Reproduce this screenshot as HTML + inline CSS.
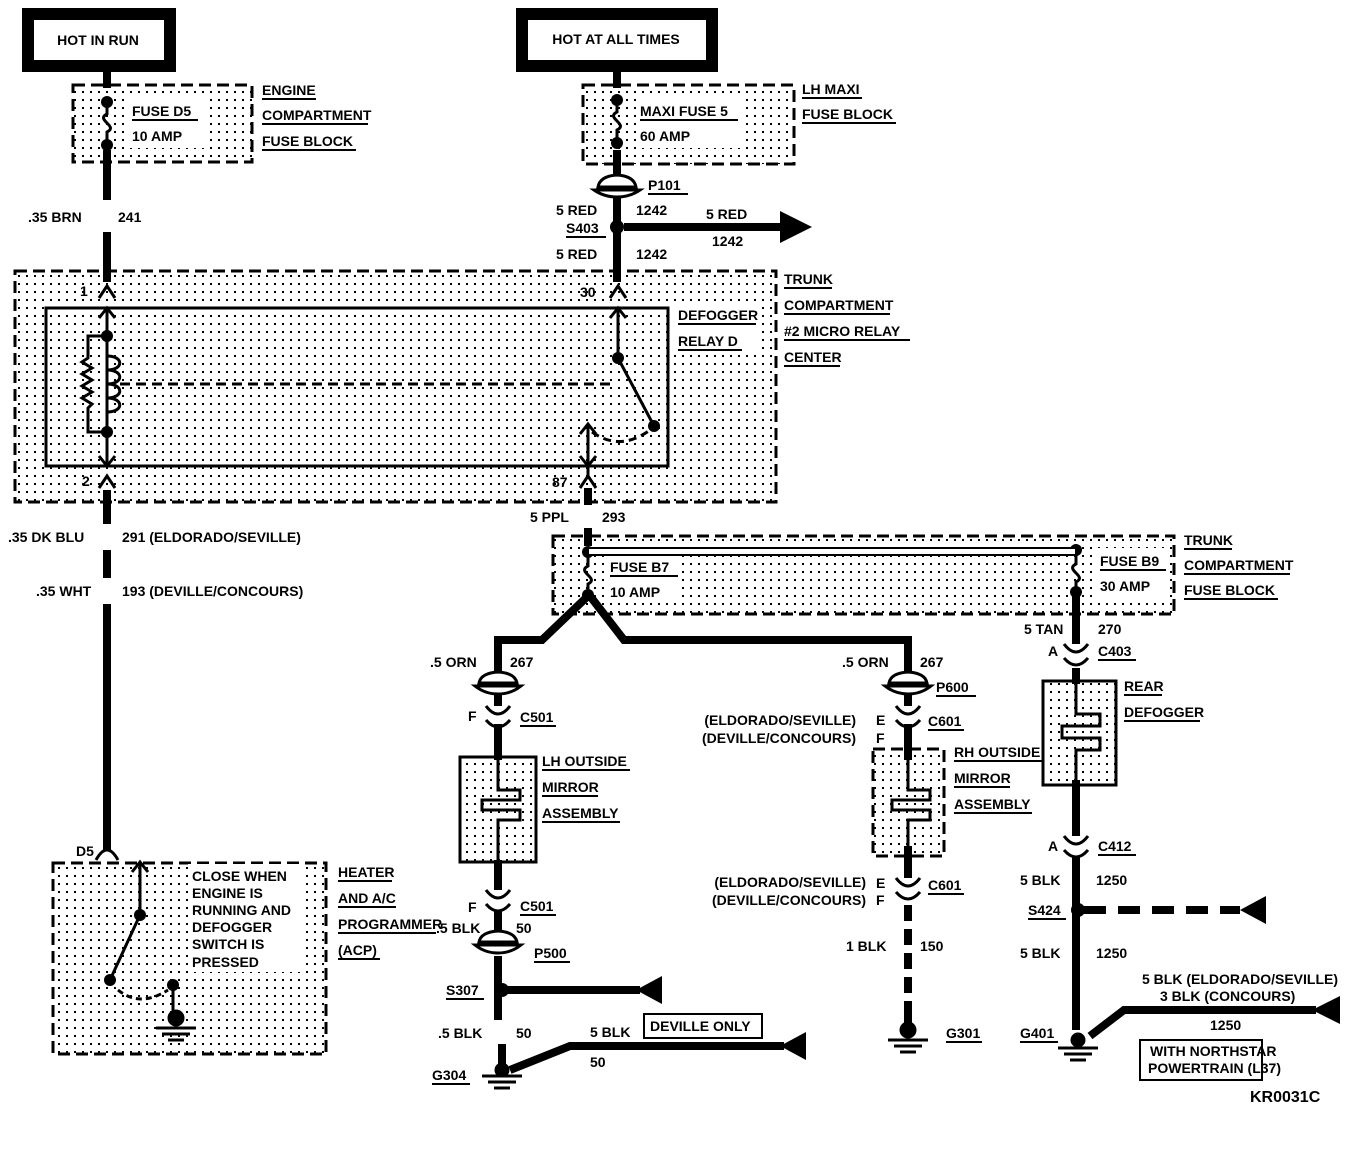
<!DOCTYPE html>
<html><head><meta charset="utf-8"><style>
html,body{margin:0;padding:0;background:#fff;}
svg{display:block;}
text{font-family:"Liberation Sans",sans-serif;font-weight:bold;font-size:14px;fill:#000;}
</style></head><body>
<svg width="1360" height="1156" viewBox="0 0 1360 1156" xmlns="http://www.w3.org/2000/svg">
<defs>
<pattern id="dp" width="8" height="8" patternUnits="userSpaceOnUse"><rect x="2" y="3" width="2" height="2" fill="#000"/></pattern>
</defs>
<rect width="1360" height="1156" fill="#fff"/>

<rect x="28" y="14" width="142" height="52" fill="#fff" stroke="#000" stroke-width="12"/>
<text x="98" y="45" text-anchor="middle">HOT IN RUN</text>
<rect x="522" y="14" width="190" height="52" fill="#fff" stroke="#000" stroke-width="12"/>
<text x="616" y="44" text-anchor="middle">HOT AT ALL TIMES</text>

<g stroke="#000" stroke-width="3" stroke-dasharray="12,6" fill="url(#dp)">
<rect x="73" y="85" width="179" height="77"/>
<rect x="583" y="85" width="211" height="79"/>
<rect x="15" y="271" width="761" height="231"/>
<rect x="553" y="536" width="621" height="78"/>
<rect x="873" y="749" width="71" height="107"/>
<rect x="53" y="863" width="273" height="191"/>
</g>
<rect x="46" y="308" width="622" height="158" fill="none" stroke="#000" stroke-width="3"/>

<!-- white text backgrounds -->
<g fill="#fff">
<rect x="128" y="98" width="76" height="50"/>
<rect x="636" y="97" width="108" height="51"/>
<rect x="674" y="303" width="88" height="52"/>
<rect x="606" y="556" width="76" height="46"/>
<rect x="1096" y="548" width="74" height="50"/>
<rect x="188" y="864" width="112" height="108"/>
</g>

<g>
<text x="132" y="116">FUSE D5</text><line x1="132" y1="120" x2="198" y2="120" stroke="#000" stroke-width="2"/>
<text x="132" y="141">10 AMP</text>
<text x="262" y="95">ENGINE</text><line x1="262" y1="99" x2="316" y2="99" stroke="#000" stroke-width="2"/>
<text x="262" y="120">COMPARTMENT</text><line x1="262" y1="124" x2="368" y2="124" stroke="#000" stroke-width="2"/>
<text x="262" y="146">FUSE BLOCK</text><line x1="262" y1="150" x2="356" y2="150" stroke="#000" stroke-width="2"/>
<text x="640" y="116">MAXI FUSE 5</text><line x1="640" y1="120" x2="738" y2="120" stroke="#000" stroke-width="2"/>
<text x="640" y="141">60 AMP</text>
<text x="802" y="94">LH MAXI</text><line x1="802" y1="98" x2="862" y2="98" stroke="#000" stroke-width="2"/>
<text x="802" y="119">FUSE BLOCK</text><line x1="802" y1="123" x2="896" y2="123" stroke="#000" stroke-width="2"/>
</g>

<g stroke="#000" stroke-width="3" fill="none">
<path d="M107,102 L107,114 C95,120 119,126 107,132 L107,145"/>
<path d="M617,100 L617,112 C605,118 629,124 617,130 L617,143"/>
<path d="M588,552 L588,566 C576,572 600,578 588,584 L588,595"/>
<path d="M1076,550 L1076,564 C1064,570 1088,576 1076,582 L1076,592"/>
</g>
<g fill="#000">
<circle cx="107" cy="102" r="6"/><circle cx="107" cy="145" r="6"/>
<circle cx="617" cy="100" r="6"/><circle cx="617" cy="143" r="6"/>
<circle cx="588" cy="552" r="6"/><circle cx="588" cy="595" r="6"/>
<circle cx="1076" cy="550" r="6"/><circle cx="1076" cy="592" r="6"/>
</g>

<g stroke="#000" stroke-width="8" fill="none">
<line x1="107" y1="66" x2="107" y2="88"/>
<line x1="107" y1="150" x2="107" y2="200"/>
<line x1="107" y1="232" x2="107" y2="282"/>
<line x1="617" y1="66" x2="617" y2="88"/>
<line x1="617" y1="150" x2="617" y2="176"/>
<line x1="617" y1="192" x2="617" y2="282"/>
<line x1="624" y1="227" x2="784" y2="227"/>
</g>
<path d="M780,211 L812,227 L780,243 Z" fill="#000"/>
<text x="28" y="222">.35 BRN</text><text x="118" y="222">241</text>

<g fill="#fff" stroke="#000" stroke-width="3">
<path d="M598,187 Q600,176 617,175 Q634,176 636,187 Z"/>
<path d="M594,190 L640,190 Q630,197 617,197 Q604,197 594,190 Z"/>
</g>
<text x="648" y="190">P101</text><line x1="648" y1="194" x2="688" y2="194" stroke="#000" stroke-width="2"/>
<circle cx="617" cy="227" r="7" fill="#000"/>
<text x="556" y="215">5 RED</text><text x="636" y="215">1242</text>
<text x="566" y="233">S403</text><line x1="566" y1="237" x2="606" y2="237" stroke="#000" stroke-width="2"/>
<text x="556" y="259">5 RED</text><text x="636" y="259">1242</text>
<text x="706" y="219">5 RED</text><text x="712" y="246">1242</text>

<g stroke="#000" stroke-width="3" fill="none">
<path d="M99,298 L107,286 L115,298"/>
<path d="M99,318 L107,308 L115,318"/>
<line x1="107" y1="308" x2="107" y2="466"/>
<path d="M99,456 L107,466 L115,456"/>
<path d="M99,488 L107,476 L115,488"/>
<path d="M107,336 L88,336 L88,358 L82,362 L92,368 L82,374 L92,380 L82,386 L92,392 L82,398 L92,404 L88,408 L88,432 L107,432"/>
<path d="M107,356 C124,356 124,370 107,370 C124,370 124,384 107,384 C124,384 124,398 107,398 C124,398 124,412 107,412"/>
<line x1="120" y1="384" x2="612" y2="384" stroke-dasharray="10,6"/>
<path d="M610,298 L618,286 L626,298"/>
<path d="M610,318 L618,308 L626,318"/>
<line x1="618" y1="308" x2="618" y2="358"/>
<line x1="618" y1="358" x2="654" y2="426"/>
<line x1="588" y1="426" x2="588" y2="476"/>
<path d="M580,434 L588,424 L596,434"/>
<path d="M580,456 L588,466 L596,456"/>
<path d="M580,488 L588,476 L596,488"/>
<path d="M592,432 Q620,452 650,430" stroke-dasharray="8,5"/>
</g>
<g fill="#000"><circle cx="107" cy="336" r="6"/><circle cx="107" cy="432" r="6"/><circle cx="618" cy="358" r="6"/><circle cx="654" cy="426" r="6"/></g>
<text x="80" y="296">1</text><text x="580" y="297">30</text>
<text x="82" y="486">2</text><text x="552" y="487">87</text>
<text x="678" y="320">DEFOGGER</text><line x1="678" y1="324" x2="756" y2="324" stroke="#000" stroke-width="2"/>
<text x="678" y="346">RELAY D</text><line x1="678" y1="350" x2="742" y2="350" stroke="#000" stroke-width="2"/>
<text x="784" y="284">TRUNK</text><line x1="784" y1="288" x2="832" y2="288" stroke="#000" stroke-width="2"/>
<text x="784" y="310">COMPARTMENT</text><line x1="784" y1="314" x2="890" y2="314" stroke="#000" stroke-width="2"/>
<text x="784" y="336">#2 MICRO RELAY</text><line x1="784" y1="340" x2="910" y2="340" stroke="#000" stroke-width="2"/>
<text x="784" y="362">CENTER</text><line x1="784" y1="366" x2="840" y2="366" stroke="#000" stroke-width="2"/>

<g stroke="#000" stroke-width="8" fill="none">
<line x1="107" y1="490" x2="107" y2="524"/>
<line x1="107" y1="550" x2="107" y2="578"/>
<line x1="107" y1="604" x2="107" y2="850"/>
<line x1="588" y1="488" x2="588" y2="505"/>
<line x1="588" y1="528" x2="588" y2="546"/>
</g>
<path d="M96,860 Q107,840 118,860" stroke="#000" stroke-width="3" fill="none"/>
<text x="8" y="542">.35 DK BLU</text><text x="122" y="542">291 (ELDORADO/SEVILLE)</text>
<text x="36" y="596">.35 WHT</text><text x="122" y="596">193 (DEVILLE/CONCOURS)</text>
<text x="530" y="522">5 PPL</text><text x="602" y="522">293</text>

<line x1="588" y1="548" x2="1076" y2="548" stroke="#000" stroke-width="2"/>
<line x1="588" y1="555" x2="1076" y2="555" stroke="#000" stroke-width="2"/>
<rect x="589" y="549" width="486" height="5" fill="#fff"/>
<text x="610" y="572">FUSE B7</text><line x1="610" y1="576" x2="678" y2="576" stroke="#000" stroke-width="2"/>
<text x="610" y="597">10 AMP</text>
<text x="1100" y="566">FUSE B9</text><line x1="1100" y1="570" x2="1166" y2="570" stroke="#000" stroke-width="2"/>
<text x="1100" y="591">30 AMP</text>
<text x="1184" y="545">TRUNK</text><line x1="1184" y1="549" x2="1232" y2="549" stroke="#000" stroke-width="2"/>
<text x="1184" y="570">COMPARTMENT</text><line x1="1184" y1="574" x2="1290" y2="574" stroke="#000" stroke-width="2"/>
<text x="1184" y="595">FUSE BLOCK</text><line x1="1184" y1="599" x2="1278" y2="599" stroke="#000" stroke-width="2"/>

<g stroke="#000" stroke-width="8" fill="none">
<path d="M588,596 L542,640 L498,640 L498,676"/>
<path d="M590,596 L624,640 L908,640 L908,676"/>
<line x1="498" y1="694" x2="498" y2="706"/>
<line x1="498" y1="724" x2="498" y2="760"/>
<line x1="498" y1="860" x2="498" y2="890"/>
<line x1="498" y1="910" x2="498" y2="938"/>
<line x1="498" y1="956" x2="498" y2="1020"/>
<line x1="502" y1="1044" x2="502" y2="1064"/>
<line x1="506" y1="990" x2="640" y2="990"/>
<path d="M510,1070 L570,1046 L784,1046"/>
<line x1="908" y1="694" x2="908" y2="706"/>
<line x1="908" y1="724" x2="908" y2="760"/>
<line x1="908" y1="846" x2="908" y2="878"/>
<line x1="908" y1="905" x2="908" y2="1010" stroke-dasharray="16,8"/>
<line x1="908" y1="1010" x2="908" y2="1030"/>
<line x1="1076" y1="596" x2="1076" y2="644"/>
<line x1="1076" y1="668" x2="1076" y2="684"/>
<line x1="1076" y1="780" x2="1076" y2="836"/>
<line x1="1076" y1="856" x2="1076" y2="1030"/>
<line x1="1084" y1="910" x2="1240" y2="910" stroke-dasharray="22,12"/>
<path d="M1090,1036 L1124,1010 L1316,1010"/>
</g>
<g fill="#000">
<path d="M662,976 L636,990 L662,1004 Z"/>
<path d="M806,1032 L780,1046 L806,1060 Z"/>
<path d="M1266,896 L1240,910 L1266,924 Z"/>
<path d="M1340,996 L1312,1010 L1340,1024 Z"/>
<circle cx="502" cy="990" r="7"/><circle cx="1078" cy="910" r="7"/>
</g>

<g fill="#fff" stroke="#000" stroke-width="3">
<path d="M479,683 Q481,673 498,672 Q515,673 517,683 Z"/>
<path d="M475,686 L521,686 Q511,694 498,694 Q485,694 475,686 Z"/>
<path d="M889,683 Q891,673 908,672 Q925,673 927,683 Z"/>
<path d="M885,686 L931,686 Q921,694 908,694 Q895,694 885,686 Z"/>
<path d="M479,942 Q481,932 498,931 Q515,932 517,942 Z"/>
<path d="M475,945 L521,945 Q511,953 498,953 Q485,953 475,945 Z"/>
</g>
<g stroke="#000" stroke-width="3" fill="none">
<path d="M486,706 Q498,722 510,706"/><path d="M486,720 Q498,734 510,720"/>
<path d="M486,890 Q498,906 510,890"/><path d="M486,904 Q498,918 510,904"/>
<path d="M896,706 Q908,722 920,706"/><path d="M896,720 Q908,734 920,720"/>
<path d="M896,878 Q908,894 920,878"/><path d="M896,892 Q908,906 920,892"/>
<path d="M1064,644 Q1076,660 1088,644"/><path d="M1064,658 Q1076,672 1088,658"/>
<path d="M1064,836 Q1076,852 1088,836"/><path d="M1064,850 Q1076,864 1088,850"/>
</g>

<rect x="460" y="757" width="76" height="105" fill="url(#dp)" stroke="#000" stroke-width="3"/>
<g stroke="#000" stroke-width="3" fill="none">
<path d="M498,760 L498,790 L520,790 L520,800 L482,800 L482,810 L520,810 L520,820 L498,820 L498,862"/>
<path d="M908,760 L908,790 L930,790 L930,800 L892,800 L892,810 L930,810 L930,820 L908,820 L908,846"/>
</g>
<rect x="1043" y="681" width="73" height="104" fill="url(#dp)" stroke="#000" stroke-width="3"/>
<path d="M1076,684 L1076,714 L1100,714 L1100,726 L1062,726 L1062,738 L1100,738 L1100,750 L1076,750 L1076,784" stroke="#000" stroke-width="3" fill="none"/>

<text x="430" y="667">.5 ORN</text><text x="510" y="667">267</text>
<text x="842" y="667">.5 ORN</text><text x="920" y="667">267</text>
<text x="468" y="721">F</text><text x="520" y="722">C501</text><line x1="520" y1="726" x2="556" y2="726" stroke="#000" stroke-width="2"/>
<text x="542" y="766">LH OUTSIDE</text><line x1="542" y1="770" x2="630" y2="770" stroke="#000" stroke-width="2"/>
<text x="542" y="792">MIRROR</text><line x1="542" y1="796" x2="598" y2="796" stroke="#000" stroke-width="2"/>
<text x="542" y="818">ASSEMBLY</text><line x1="542" y1="822" x2="620" y2="822" stroke="#000" stroke-width="2"/>
<text x="468" y="912">F</text><text x="520" y="911">C501</text><line x1="520" y1="915" x2="556" y2="915" stroke="#000" stroke-width="2"/>
<text x="436" y="933">.5 BLK</text><text x="516" y="933">50</text>
<text x="534" y="958">P500</text><line x1="534" y1="962" x2="570" y2="962" stroke="#000" stroke-width="2"/>
<text x="446" y="995">S307</text><line x1="446" y1="999" x2="484" y2="999" stroke="#000" stroke-width="2"/>
<text x="438" y="1038">.5 BLK</text><text x="516" y="1038">50</text>
<text x="590" y="1037">5 BLK</text>
<rect x="644" y="1014" width="118" height="24" fill="#fff" stroke="#000" stroke-width="2"/>
<text x="650" y="1031">DEVILLE ONLY</text>
<text x="590" y="1067">50</text>
<text x="432" y="1080">G304</text><line x1="432" y1="1084" x2="470" y2="1084" stroke="#000" stroke-width="2"/>
<text x="936" y="692">P600</text><line x1="936" y1="696" x2="976" y2="696" stroke="#000" stroke-width="2"/>
<text x="856" y="725" text-anchor="end">(ELDORADO/SEVILLE)</text>
<text x="856" y="743" text-anchor="end">(DEVILLE/CONCOURS)</text>
<text x="876" y="725">E</text><text x="876" y="743">F</text>
<text x="928" y="726">C601</text><line x1="928" y1="730" x2="964" y2="730" stroke="#000" stroke-width="2"/>
<text x="954" y="757">RH OUTSIDE</text><line x1="954" y1="761" x2="1042" y2="761" stroke="#000" stroke-width="2"/>
<text x="954" y="783">MIRROR</text><line x1="954" y1="787" x2="1010" y2="787" stroke="#000" stroke-width="2"/>
<text x="954" y="809">ASSEMBLY</text><line x1="954" y1="813" x2="1032" y2="813" stroke="#000" stroke-width="2"/>
<text x="866" y="887" text-anchor="end">(ELDORADO/SEVILLE)</text>
<text x="866" y="905" text-anchor="end">(DEVILLE/CONCOURS)</text>
<text x="876" y="888">E</text><text x="876" y="905">F</text>
<text x="928" y="890">C601</text><line x1="928" y1="894" x2="964" y2="894" stroke="#000" stroke-width="2"/>
<text x="846" y="951">1 BLK</text><text x="920" y="951">150</text>
<text x="946" y="1038">G301</text><line x1="946" y1="1042" x2="982" y2="1042" stroke="#000" stroke-width="2"/>
<text x="1024" y="634">5 TAN</text><text x="1098" y="634">270</text>
<text x="1048" y="656">A</text><text x="1098" y="656">C403</text><line x1="1098" y1="660" x2="1136" y2="660" stroke="#000" stroke-width="2"/>
<text x="1124" y="691">REAR</text><line x1="1124" y1="695" x2="1162" y2="695" stroke="#000" stroke-width="2"/>
<text x="1124" y="717">DEFOGGER</text><line x1="1124" y1="721" x2="1200" y2="721" stroke="#000" stroke-width="2"/>
<text x="1048" y="851">A</text><text x="1098" y="851">C412</text><line x1="1098" y1="855" x2="1136" y2="855" stroke="#000" stroke-width="2"/>
<text x="1020" y="885">5 BLK</text><text x="1096" y="885">1250</text>
<text x="1028" y="915">S424</text><line x1="1028" y1="919" x2="1066" y2="919" stroke="#000" stroke-width="2"/>
<text x="1020" y="958">5 BLK</text><text x="1096" y="958">1250</text>
<text x="1142" y="984">5 BLK (ELDORADO/SEVILLE)</text>
<text x="1160" y="1001">3 BLK (CONCOURS)</text>
<text x="1210" y="1030">1250</text>
<text x="1020" y="1038">G401</text><line x1="1020" y1="1042" x2="1058" y2="1042" stroke="#000" stroke-width="2"/>
<rect x="1140" y="1040" width="122" height="40" fill="#fff" stroke="#000" stroke-width="2"/>
<text x="1150" y="1056">WITH NORTHSTAR</text>
<text x="1148" y="1073">POWERTRAIN (L37)</text>
<text x="1250" y="1102" style="font-size:16px">KR0031C</text>

<g stroke="#000" stroke-width="3">
<circle cx="502" cy="1070" r="6" fill="#000"/>
<line x1="482" y1="1076" x2="522" y2="1076"/><line x1="488" y1="1082" x2="516" y2="1082"/><line x1="494" y1="1088" x2="510" y2="1088"/>
<circle cx="908" cy="1030" r="7" fill="#000"/>
<line x1="888" y1="1040" x2="928" y2="1040"/><line x1="894" y1="1046" x2="922" y2="1046"/><line x1="900" y1="1052" x2="916" y2="1052"/>
<circle cx="1078" cy="1040" r="6" fill="#000"/>
<line x1="1058" y1="1048" x2="1098" y2="1048"/><line x1="1064" y1="1054" x2="1092" y2="1054"/><line x1="1070" y1="1060" x2="1086" y2="1060"/>
<circle cx="176" cy="1018" r="7" fill="#000"/>
<line x1="156" y1="1028" x2="196" y2="1028"/><line x1="162" y1="1034" x2="190" y2="1034"/><line x1="168" y1="1040" x2="184" y2="1040"/>
</g>

<g stroke="#000" stroke-width="3" fill="none">
<line x1="140" y1="862" x2="140" y2="915"/>
<path d="M132,872 L140,862 L148,872"/>
<line x1="140" y1="915" x2="110" y2="980"/>
<line x1="173" y1="985" x2="173" y2="1014"/>
<path d="M118,990 Q140,1008 168,990" stroke-dasharray="6,4"/>
</g>
<g fill="#000"><circle cx="140" cy="915" r="6"/><circle cx="110" cy="980" r="6"/><circle cx="173" cy="985" r="6"/></g>
<text x="76" y="856">D5</text>
<text x="192" y="881">CLOSE WHEN</text>
<text x="192" y="898">ENGINE IS</text>
<text x="192" y="915">RUNNING AND</text>
<text x="192" y="932">DEFOGGER</text>
<text x="192" y="949">SWITCH IS</text>
<text x="192" y="967">PRESSED</text>
<text x="338" y="877">HEATER</text><line x1="338" y1="881" x2="392" y2="881" stroke="#000" stroke-width="2"/>
<text x="338" y="903">AND A/C</text><line x1="338" y1="907" x2="396" y2="907" stroke="#000" stroke-width="2"/>
<text x="338" y="929">PROGRAMMER</text><line x1="338" y1="933" x2="436" y2="933" stroke="#000" stroke-width="2"/>
<text x="338" y="955">(ACP)</text><line x1="338" y1="959" x2="380" y2="959" stroke="#000" stroke-width="2"/>
</svg>
</body></html>
